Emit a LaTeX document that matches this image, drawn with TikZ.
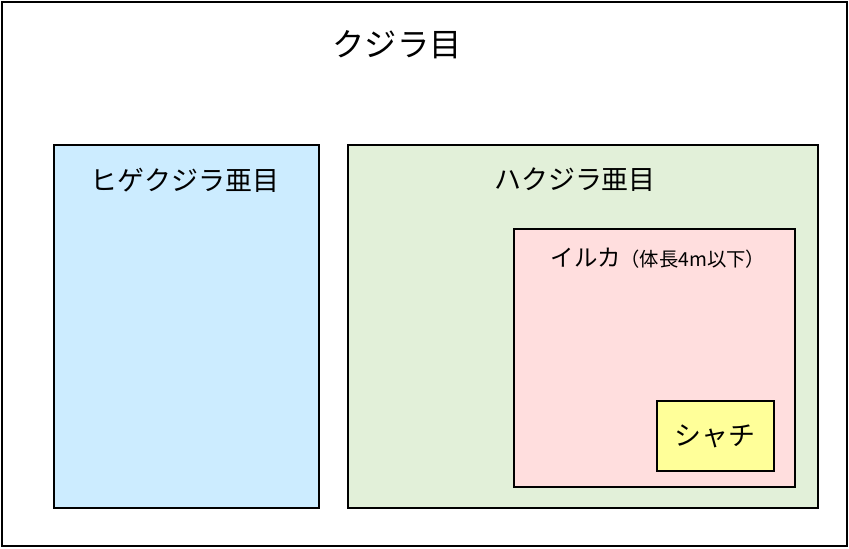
\documentclass[tikz,border=0pt]{standalone}
\usepackage{fontspec}
\setmainfont{Noto Sans CJK JP}
\definecolor{bluefill}{RGB}{204,236,255}
\definecolor{greenfill}{RGB}{226,240,217}
\definecolor{pinkfill}{RGB}{255,222,222}
\definecolor{yellowfill}{RGB}{255,255,153}
\begin{document}
\begin{tikzpicture}[x=0.03cm,y=-0.03cm,
    group/.style={draw, line width=2.2pt},
    label/.style={font=\fontsize{23}{26}\selectfont}]
    \useasboundingbox (0,0) rectangle (849,548);
    % outer frame
    \draw[group, fill=white] (2,2) rectangle (847,546);
    \node[font=\fontsize{27.5}{30}\selectfont] (order) at (397,45) {クジラ目};
    % suborders
    \draw[group, fill=bluefill] (54,145) rectangle (319,508);
    \node[label] (baleen) at (185,180) {ヒゲクジラ亜目};
    \draw[group, fill=greenfill] (348,145) rectangle (818,508);
    \node[label] (toothed) at (575,180) {ハクジラ亜目};
    % dolphins
    \draw[group, fill=pinkfill] (514,229) rectangle (795,487);
    \node[font=\fontsize{20}{22}\selectfont] (dolphin) at (658,258) {イルカ{\fontsize{16.5}{18}\selectfont（体長4m以下）}};
    % orca
    \draw[group, fill=yellowfill] (657,401) rectangle (774,471);
    \node[label] (orca) at (715,436) {シャチ};
\end{tikzpicture}
\end{document}
